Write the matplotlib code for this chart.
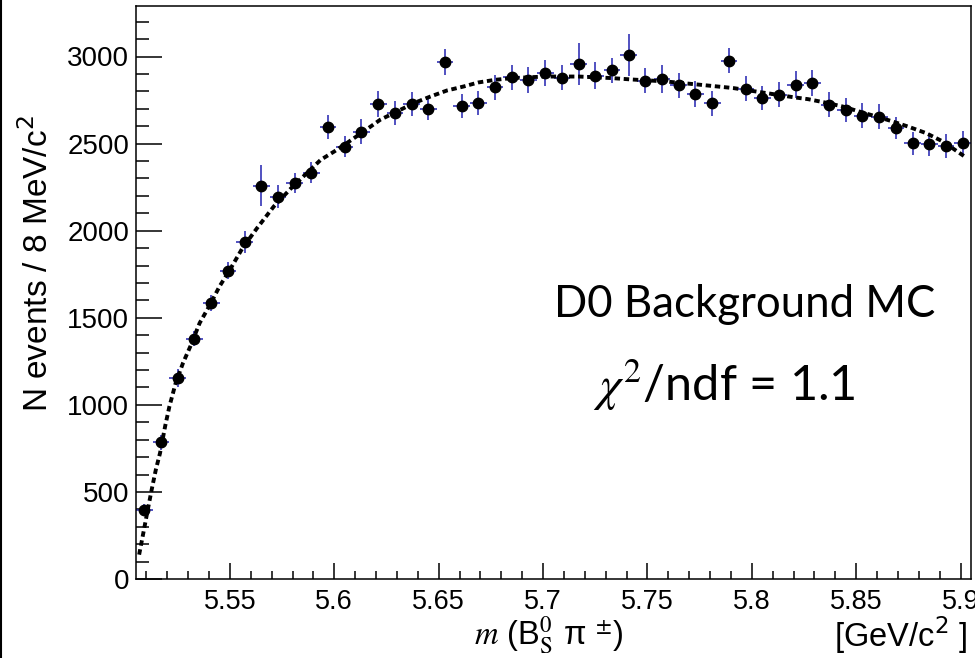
import matplotlib
matplotlib.use('Agg')
import matplotlib.pyplot as plt
from matplotlib.ticker import MultipleLocator
from matplotlib.lines import Line2D

# histogram bins, 8 MeV wide
bin_lo = 5.505
bin_w = 0.008
counts = [398, 784, 1154, 1380, 1584, 1770, 1936, 2258, 2196, 2273,
          2334, 2595, 2483, 2568, 2727, 2675, 2727, 2698, 2966, 2715,
          2732, 2824, 2880, 2866, 2905, 2878, 2956, 2889, 2922, 3010,
          2862, 2870, 2834, 2784, 2732, 2977, 2815, 2759, 2780, 2837,
          2849, 2723, 2694, 2661, 2654, 2589, 2501, 2495, 2487, 2503]
errors = [30, 42, 52, 42, 48, 48, 63, 119, 65, 57,
          63, 71, 61, 72, 77, 69, 69, 62, 75, 70,
          69, 72, 74, 75, 76, 71, 122, 77, 72, 121,
          72, 79, 72, 74, 72, 74, 72, 69, 72, 78,
          73, 72, 70, 72, 72, 64, 64, 67, 67, 67]

# fit curve
fit_x = [5.5065, 5.5085, 5.5105, 5.5125, 5.5145, 5.5165, 5.519, 5.521, 5.524,
         5.5275, 5.531, 5.5355, 5.540, 5.545, 5.550, 5.556, 5.563, 5.571,
         5.579, 5.586, 5.5935, 5.600, 5.606, 5.614, 5.622, 5.630, 5.638,
         5.646, 5.654, 5.662, 5.669, 5.677, 5.685, 5.701, 5.717, 5.733,
         5.7425, 5.7585, 5.775, 5.791, 5.807, 5.820, 5.827, 5.835, 5.8435,
         5.8515, 5.8595, 5.8675, 5.8755, 5.8835, 5.8915, 5.903]
fit_y = [140, 264, 390, 513, 628, 723, 880, 991, 1125,
         1240, 1335, 1470, 1565, 1680, 1776, 1900, 2015, 2139,
         2240, 2321, 2407, 2455, 2503, 2569, 2637, 2684, 2732,
         2770, 2805, 2828, 2851, 2866, 2876, 2885, 2885, 2876,
         2868, 2857, 2838, 2819, 2790, 2766, 2755, 2736, 2713,
         2684, 2656, 2627, 2595, 2560, 2512, 2417]

y_ticks = [0, 500, 1000, 1500, 2000, 2500, 3000]
x_ticks = [5.55, 5.6, 5.65, 5.7, 5.75, 5.8, 5.85, 5.9]
x_tick_labels = ['5.55', '5.6', '5.65', '5.7', '5.75', '5.8', '5.85', '5.9']

centers = [bin_lo + bin_w * (i + 0.5) for i in range(len(counts))]

plt.rcParams['font.family'] = ['Liberation Sans', 'DejaVu Sans']
plt.rcParams['mathtext.fontset'] = 'stix'

fig = plt.figure(figsize=(9.75, 6.58), dpi=100)
ax = fig.add_axes([0.1395, 0.120, 0.8564, 0.8709])

blue = '#2222b0'
ax.errorbar(centers, counts, yerr=errors, xerr=bin_w / 2, fmt='none',
            ecolor=blue, elinewidth=1.1, capsize=0, zorder=2)
ax.plot(centers, counts, 'o', color='black', markersize=7.5, zorder=3)
ax.plot(fit_x, fit_y, color='black', lw=2.8, linestyle=(0, (1.4, 0.95)),
        zorder=4)

ax.set_xlim(5.505, 5.905)
ax.set_ylim(0, 3290)
ax.set_yticks(y_ticks)
ax.set_xticks(x_ticks)
ax.set_xticklabels(x_tick_labels)
ax.xaxis.set_minor_locator(MultipleLocator(0.01))
ax.yaxis.set_minor_locator(MultipleLocator(100))
ax.tick_params(axis='both', which='both', direction='in', width=1.1,
               top=False, right=False)
ax.tick_params(axis='y', which='major', length=18.5, pad=5, labelsize=20)
ax.tick_params(axis='y', which='minor', length=9.3)
ax.tick_params(axis='x', which='major', length=11.5, pad=7, labelsize=19.5)
ax.tick_params(axis='x', which='minor', length=5.8)
for s in ax.spines.values():
    s.set_linewidth(1.1)

ax.set_ylabel('N events / 8 MeV/c$^{2}$', fontsize=24,
              math_fontfamily='dejavusans')
ax.yaxis.set_label_coords(-0.097, 0.55)

fig.text(0.563, 0.003, r'$m$ (B$^{0}_{\rm S}$ π $^{\pm}$)', fontsize=23.5,
         ha='center', va='bottom')
fig.text(0.992, 0.003, r'[GeV/c$^{2}$ ]', fontsize=23.5, ha='right',
         va='bottom', math_fontfamily='dejavusans')

fig.text(0.764, 0.5365, 'D0 Background MC', family='Lato', fontsize=31.5,
         ha='center', va='center')
fig.text(0.7426, 0.415, r'$\chi^{2}$/ndf = 1.1', family='Lato', fontsize=35,
         ha='center', va='center')

fig.add_artist(Line2D([0.001, 0.001], [0, 1], transform=fig.transFigure,
                      color='black', lw=1.5))

fig.savefig('out.png', dpi=100)
